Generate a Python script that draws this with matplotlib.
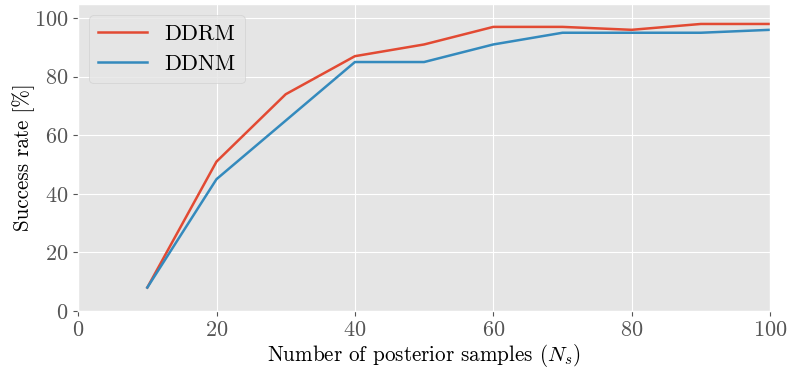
import matplotlib
matplotlib.use("Agg")
import matplotlib.pyplot as plt

# success rate vs number of posterior samples
n_samples = [10, 20, 30, 40, 50, 60, 70, 80, 90, 100]
ddrm = [8, 51, 74, 87, 91, 97, 97, 96, 98, 98]
ddnm = [8, 45, 65, 85, 85, 91, 95, 95, 95, 96]

plt.style.use("ggplot")
plt.rcParams["font.family"] = "serif"
plt.rcParams["font.serif"] = ["cmr10"]
plt.rcParams["mathtext.fontset"] = "cm"
plt.rcParams["axes.unicode_minus"] = False
plt.rcParams["axes.formatter.use_mathtext"] = True

fig, ax = plt.subplots(figsize=(7.89, 3.68), dpi=100)
ax.plot(n_samples, ddrm, color="#E24A33", lw=1.8, label="DDRM")
ax.plot(n_samples, ddnm, color="#348ABD", lw=1.8, label="DDNM")
ax.set_xlim(0, 100)
ax.set_ylim(0, 104.8)
ax.set_xticks([0, 20, 40, 60, 80, 100])
ax.set_yticks([0, 20, 40, 60, 80, 100])
ax.tick_params(labelsize=16)
ax.set_xlabel("Number of posterior samples ($N_s$)", fontsize=15.2, color="black", labelpad=1)
ax.set_ylabel("Success rate [%]", fontsize=15.2, color="black", labelpad=-1)
ax.legend(loc="upper left", fontsize=16, handlelength=2.2)

fig.subplots_adjust(left=0.099, right=0.976, top=0.989, bottom=0.155)
fig.savefig("out.png", dpi=100)
